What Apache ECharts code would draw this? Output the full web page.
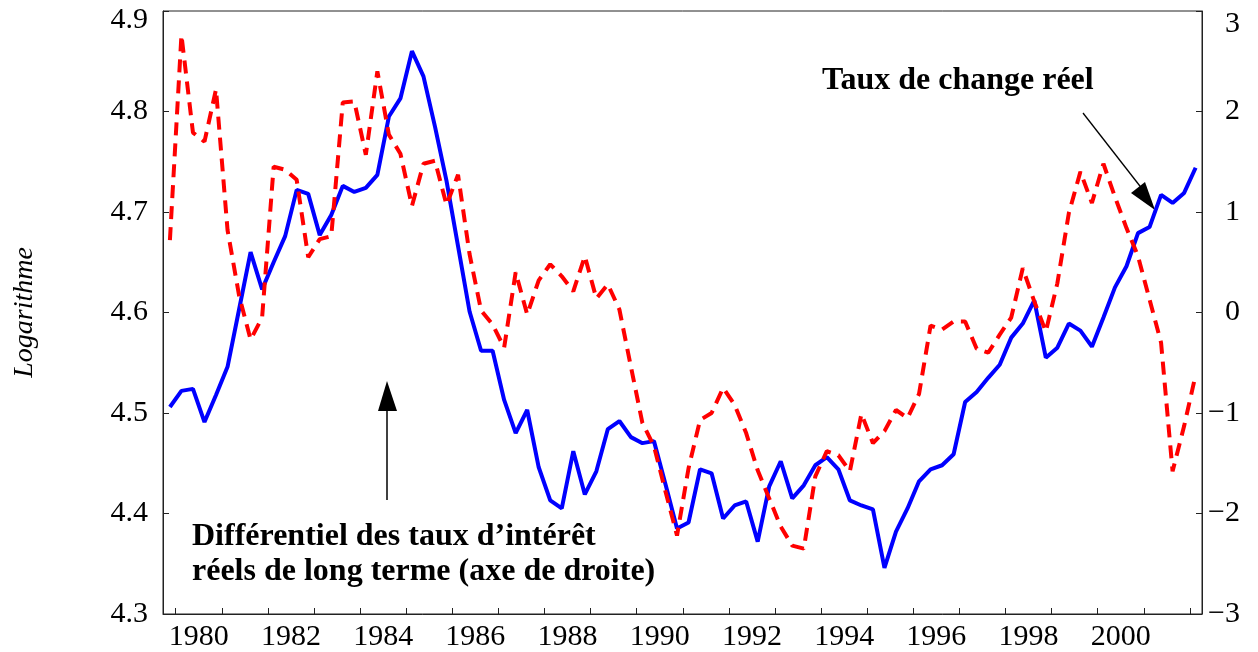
<!DOCTYPE html>
<html>
<head>
<meta charset="utf-8">
<script src="https://cdn.jsdelivr.net/npm/echarts@6/dist/echarts.min.js"></script>
<style>
    html, body { margin: 0; padding: 0; background: #fff; }
    #chart { width: 1258px; height: 652px; }
</style>
</head>
<body>
<div id="chart"></div>
<script>
// données trimestrielles, 1979T4 -> 2002T1
var debut = 1979.875;
var tauxChange = [
    4.506, 4.522, 4.524, 4.491, 4.518, 4.546, 4.603, 4.660, 4.623, 4.650,
    4.676, 4.722, 4.718, 4.677, 4.697, 4.726, 4.720, 4.724, 4.737, 4.795,
    4.813, 4.860, 4.835, 4.785, 4.731, 4.666, 4.601, 4.562, 4.562, 4.513,
    4.480, 4.503, 4.446, 4.413, 4.405, 4.462, 4.419, 4.442, 4.484, 4.492,
    4.476, 4.470, 4.472, 4.429, 4.385, 4.391, 4.444, 4.440, 4.395, 4.408,
    4.412, 4.372, 4.427, 4.452, 4.415, 4.428, 4.448, 4.456, 4.444, 4.413,
    4.408, 4.404, 4.346, 4.382, 4.405, 4.432, 4.444, 4.448, 4.459, 4.511,
    4.521, 4.535, 4.548, 4.575, 4.589, 4.612, 4.555, 4.565, 4.589, 4.582,
    4.566, 4.595, 4.625, 4.646, 4.679, 4.685, 4.717, 4.709, 4.719, 4.744
];
var differentiel = [
    0.72, 2.76, 1.79, 1.70, 2.22, 0.82, 0.17, -0.27, -0.05, 1.45,
    1.42, 1.32, 0.55, 0.73, 0.76, 2.09, 2.10, 1.57, 2.40, 1.77,
    1.58, 1.06, 1.48, 1.51, 1.07, 1.37, 0.58, 0.02, -0.12, -0.35,
    0.40, -0.02, 0.32, 0.48, 0.36, 0.21, 0.56, 0.14, 0.28, 0.03,
    -0.54, -1.10, -1.33, -1.78, -2.22, -1.55, -1.07, -1.00, -0.75, -0.92,
    -1.20, -1.57, -1.85, -2.13, -2.32, -2.35, -1.63, -1.38, -1.42, -1.58,
    -1.01, -1.30, -1.18, -0.97, -1.05, -0.81, -0.13, -0.17, -0.09, -0.09,
    -0.36, -0.40, -0.22, -0.05, 0.44, 0.11, -0.19, 0.29, 0.99, 1.40,
    1.09, 1.48, 1.15, 0.84, 0.56, 0.13, -0.30, -1.58, -1.13, -0.62
];
var ticksAnnees = [1980, 1981, 1982, 1983, 1984, 1985, 1986, 1987, 1988, 1989, 1990,
    1991, 1992, 1993, 1994, 1995, 1996, 1997, 1998, 1999, 2000, 2001, 2002];
var labelsAnnees = [1980, 1982, 1984, 1986, 1988, 1990, 1992, 1994, 1996, 1998, 2000];

var police = '"Liberation Serif", "DejaVu Serif", serif';

var myChart = echarts.init(document.getElementById('chart'));

var serieChange = [];
var serieDiff = [];
for (var i = 0; i < tauxChange.length; i++) {
    var t = debut + i * 0.25;
    serieChange.push([t, tauxChange[i]]);
    serieDiff.push([t, differentiel[i]]);
}

var option = {
    animation: false,
    backgroundColor: '#fff',
    grid: {
        left: 163, right: 56, top: 11, bottom: 36,
        show: true, borderColor: '#222', borderWidth: 1
    },
    xAxis: {
        type: 'value',
        min: 1979.725,
        max: 2002.263,
        splitLine: { show: false },
        axisLine: { onZero: false, lineStyle: { color: '#222' } },
        axisTick: {
            inside: true, length: 6,
            customValues: ticksAnnees,
            lineStyle: { color: '#222' }
        },
        axisLabel: {
            customValues: labelsAnnees.map(function (y) { return y + 0.5; }),
            formatter: function (v) { return String(Math.floor(v)); },
            margin: 8,
            fontSize: 30,
            fontFamily: police,
            color: '#000'
        }
    },
    yAxis: [{
        type: 'value',
        min: 4.3, max: 4.9, interval: 0.1,
        name: 'Logarithme',
        nameLocation: 'middle',
        nameGap: 124,
        nameTextStyle: { fontSize: 28, fontStyle: 'italic', fontFamily: police, color: '#000' },
        splitLine: { show: false },
        axisLine: { show: true, onZero: false, lineStyle: { color: '#222' } },
        axisTick: { show: true, inside: true, length: 6, lineStyle: { color: '#222' } },
        axisLabel: {
            margin: 15,
            fontSize: 30,
            fontFamily: police,
            color: '#000',
            formatter: function (v) {
                var s = v.toFixed(1);
                return Math.abs(v - 4.9) < 1e-6 ? '{t|' + s + '}' : s;
            },
            rich: { t: { padding: [18, 0, 0, 0], fontSize: 30, fontFamily: police, color: '#000' } }
        }
    }, {
        type: 'value',
        position: 'right',
        min: -3, max: 3, interval: 1,
        splitLine: { show: false },
        axisLine: { show: true, onZero: false, lineStyle: { color: '#222' } },
        axisTick: { show: true, inside: true, length: 6, lineStyle: { color: '#222' } },
        axisLabel: {
            margin: 38,
            align: 'right',
            fontSize: 30,
            fontFamily: police,
            color: '#000',
            formatter: function (v) {
                var s = v < 0 ? '\u2212' + Math.abs(v) : String(v);
                return v === 3 ? '{t|' + s + '}' : s;
            },
            rich: { t: { padding: [26, 0, 0, 0], fontSize: 30, fontFamily: police, color: '#000' } }
        }
    }],
    series: [{
        name: 'Taux de change réel',
        type: 'line',
        yAxisIndex: 0,
        data: serieChange,
        showSymbol: false,
        lineStyle: { color: '#0000ff', width: 4 }
    }, {
        name: 'Différentiel des taux d’intérêt réels de long terme',
        type: 'line',
        yAxisIndex: 1,
        data: serieDiff,
        showSymbol: false,
        lineStyle: { color: '#ff0000', width: 4, type: [13, 8] }
    }],
    graphic: [
        {
            type: 'text', left: 822, top: 65,
            style: { text: 'Taux de change réel', font: 'bold 32px ' + police, fill: '#000' }
        },
        {
            type: 'line', shape: { x1: 1083, y1: 113, x2: 1143, y2: 190 },
            style: { stroke: '#000', lineWidth: 1.3 }
        },
        {
            type: 'polygon', shape: { points: [[1155, 210], [1131, 193], [1145, 182]] },
            style: { fill: '#000' }
        },
        {
            type: 'line', shape: { x1: 387, y1: 500, x2: 387, y2: 408 },
            style: { stroke: '#000', lineWidth: 1.5 }
        },
        {
            type: 'polygon', shape: { points: [[387, 381], [378, 411], [397, 411]] },
            style: { fill: '#000' }
        },
        {
            type: 'text', left: 192, top: 519,
            style: {
                text: 'Différentiel des taux d’intérêt\nréels de long terme (axe de droite)',
                font: 'bold 32px ' + police, fill: '#000', lineHeight: 35
            }
        }
    ]
};

myChart.setOption(option);
</script>
</body>
</html>
